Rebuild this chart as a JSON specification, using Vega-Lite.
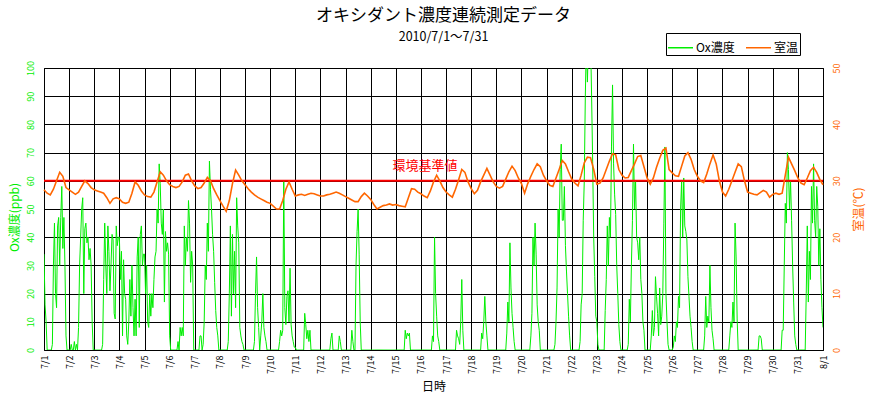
{
"$schema":"https://vega.github.io/schema/vega-lite/v6.json",
"width":779,"height":282,
"autosize":{"type":"none"},
"padding":{"left":44,"top":68,"right":49,"bottom":48},
"background":"white",
"config":{"font":"Noto Sans CJK JP","view":{"stroke":"black","strokeWidth":1},
"axis":{"gridColor":"black","gridOpacity":1,"gridWidth":1,"domain":false,"ticks":false,"tickSize":0,"labelOverlap":false,"labelFlush":false}},
"title":{"text":"オキシダント濃度連続測定データ","subtitle":"2010/7/1～7/31","fontSize":17,"fontWeight":"normal","subtitleFontSize":12.5,"color":"black","subtitleColor":"black","anchor":"middle","dx":10,"offset":-12,"subtitlePadding":6,"font":"Noto Sans CJK JP","subtitleFont":"Noto Sans CJK JP"},
"datasets":{
"ox":[
{"h":0,"v":34},{"h":1,"v":16},{"h":2,"v":10},{"h":3,"v":0},{"h":4,"v":0},{"h":5,"v":0},{"h":6,"v":0},{"h":7,"v":0},{"h":8,"v":2},{"h":9,"v":30},{"h":10,"v":45},{"h":11,"v":20},{"h":12,"v":15},{"h":13,"v":44},{"h":14,"v":47},{"h":15,"v":30},{"h":16,"v":47},{"h":17,"v":58},{"h":18,"v":36},{"h":19,"v":47},{"h":20,"v":30},{"h":21,"v":5},{"h":22,"v":0},{"h":23,"v":0},
{"h":24,"v":0},{"h":25,"v":0},{"h":26,"v":2},{"h":27,"v":0},{"h":28,"v":0},{"h":29,"v":3},{"h":30,"v":0},{"h":31,"v":2},{"h":32,"v":0},{"h":33,"v":8},{"h":34,"v":30},{"h":35,"v":40},{"h":36,"v":50},{"h":37,"v":54},{"h":38,"v":20},{"h":39,"v":43},{"h":40,"v":45},{"h":41,"v":38},{"h":42,"v":40},{"h":43,"v":32},{"h":44,"v":36},{"h":45,"v":30},{"h":46,"v":10},{"h":47,"v":0},
{"h":48,"v":0},{"h":49,"v":0},{"h":50,"v":0},{"h":51,"v":0},{"h":52,"v":0},{"h":53,"v":0},{"h":54,"v":0},{"h":55,"v":0},{"h":56,"v":2},{"h":57,"v":25},{"h":58,"v":45},{"h":59,"v":30},{"h":60,"v":20},{"h":61,"v":44},{"h":62,"v":35},{"h":63,"v":21},{"h":64,"v":30},{"h":65,"v":41},{"h":66,"v":39},{"h":67,"v":13},{"h":68,"v":11},{"h":69,"v":44},{"h":70,"v":37},{"h":71,"v":40},
{"h":72,"v":40},{"h":73,"v":25},{"h":74,"v":35},{"h":75,"v":5},{"h":76,"v":32},{"h":77,"v":20},{"h":78,"v":18},{"h":79,"v":5},{"h":80,"v":2},{"h":81,"v":10},{"h":82,"v":25},{"h":83,"v":12},{"h":84,"v":30},{"h":85,"v":15},{"h":86,"v":5},{"h":87,"v":18},{"h":88,"v":5},{"h":89,"v":33},{"h":90,"v":40},{"h":91,"v":8},{"h":92,"v":41},{"h":93,"v":44},{"h":94,"v":30},{"h":95,"v":34},
{"h":96,"v":34},{"h":97,"v":20},{"h":98,"v":30},{"h":99,"v":10},{"h":100,"v":8},{"h":101,"v":20},{"h":102,"v":12},{"h":103,"v":20},{"h":104,"v":15},{"h":105,"v":25},{"h":106,"v":33},{"h":107,"v":35},{"h":108,"v":50},{"h":109,"v":45},{"h":110,"v":66},{"h":111,"v":59},{"h":112,"v":45},{"h":113,"v":41},{"h":114,"v":50},{"h":115,"v":17},{"h":116,"v":42},{"h":117,"v":35},{"h":118,"v":38},{"h":119,"v":34},
{"h":120,"v":5},{"h":121,"v":0},{"h":122,"v":0},{"h":123,"v":0},{"h":124,"v":0},{"h":125,"v":0},{"h":126,"v":0},{"h":127,"v":0},{"h":128,"v":3},{"h":129,"v":0},{"h":130,"v":8},{"h":131,"v":5},{"h":132,"v":8},{"h":133,"v":5},{"h":134,"v":44},{"h":135,"v":30},{"h":136,"v":40},{"h":137,"v":35},{"h":138,"v":53},{"h":139,"v":45},{"h":140,"v":24},{"h":141,"v":35},{"h":142,"v":30},{"h":143,"v":0},
{"h":144,"v":0},{"h":145,"v":0},{"h":146,"v":0},{"h":147,"v":0},{"h":148,"v":0},{"h":149,"v":5},{"h":150,"v":5},{"h":151,"v":0},{"h":152,"v":2},{"h":153,"v":10},{"h":154,"v":30},{"h":155,"v":25},{"h":156,"v":45},{"h":157,"v":35},{"h":158,"v":67},{"h":159,"v":57},{"h":160,"v":50},{"h":161,"v":41},{"h":162,"v":35},{"h":163,"v":24},{"h":164,"v":14},{"h":165,"v":8},{"h":166,"v":5},{"h":167,"v":0},
{"h":168,"v":0},{"h":169,"v":0},{"h":170,"v":0},{"h":171,"v":0},{"h":172,"v":0},{"h":173,"v":0},{"h":174,"v":0},{"h":175,"v":0},{"h":176,"v":3},{"h":177,"v":20},{"h":178,"v":44},{"h":179,"v":12},{"h":180,"v":41},{"h":181,"v":20},{"h":182,"v":35},{"h":183,"v":15},{"h":184,"v":54},{"h":185,"v":44},{"h":186,"v":38},{"h":187,"v":8},{"h":188,"v":5},{"h":189,"v":3},{"h":190,"v":2},{"h":191,"v":0},
{"h":192,"v":0},{"h":193,"v":0},{"h":194,"v":0},{"h":195,"v":0},{"h":196,"v":0},{"h":197,"v":0},{"h":198,"v":0},{"h":199,"v":0},{"h":200,"v":0},{"h":201,"v":3},{"h":202,"v":20},{"h":203,"v":33},{"h":204,"v":15},{"h":205,"v":8},{"h":206,"v":0},{"h":207,"v":5},{"h":208,"v":10},{"h":209,"v":20},{"h":210,"v":8},{"h":211,"v":5},{"h":212,"v":3},{"h":213,"v":0},{"h":214,"v":0},{"h":215,"v":0},
{"h":216,"v":0},{"h":217,"v":0},{"h":218,"v":0},{"h":219,"v":0},{"h":220,"v":0},{"h":221,"v":0},{"h":222,"v":0},{"h":223,"v":0},{"h":224,"v":0},{"h":225,"v":3},{"h":226,"v":7},{"h":227,"v":5},{"h":228,"v":7},{"h":229,"v":60},{"h":230,"v":15},{"h":231,"v":9},{"h":232,"v":19},{"h":233,"v":21},{"h":234,"v":10},{"h":235,"v":29},{"h":236,"v":9},{"h":237,"v":5},{"h":238,"v":3},{"h":239,"v":1},
{"h":240,"v":1},{"h":241,"v":0},{"h":242,"v":0},{"h":243,"v":0},{"h":244,"v":0},{"h":245,"v":0},{"h":246,"v":0},{"h":247,"v":0},{"h":248,"v":0},{"h":249,"v":13},{"h":250,"v":9},{"h":251,"v":4},{"h":252,"v":7},{"h":253,"v":3},{"h":254,"v":7},{"h":255,"v":0},{"h":256,"v":0},{"h":257,"v":0},{"h":258,"v":0},{"h":259,"v":0},{"h":260,"v":0},{"h":261,"v":0},{"h":262,"v":0},{"h":263,"v":0},
{"h":264,"v":0},{"h":265,"v":0},{"h":266,"v":0},{"h":267,"v":0},{"h":268,"v":0},{"h":269,"v":0},{"h":270,"v":0},{"h":271,"v":0},{"h":272,"v":0},{"h":273,"v":0},{"h":274,"v":4},{"h":275,"v":6},{"h":276,"v":0},{"h":277,"v":0},{"h":278,"v":0},{"h":279,"v":0},{"h":280,"v":0},{"h":281,"v":0},{"h":282,"v":5},{"h":283,"v":3},{"h":284,"v":0},{"h":285,"v":0},{"h":286,"v":0},{"h":287,"v":0},
{"h":288,"v":0},{"h":289,"v":0},{"h":290,"v":0},{"h":291,"v":0},{"h":292,"v":0},{"h":293,"v":0},{"h":294,"v":7},{"h":295,"v":3},{"h":296,"v":0},{"h":297,"v":0},{"h":298,"v":30},{"h":299,"v":42},{"h":300,"v":50},{"h":301,"v":34},{"h":302,"v":10},{"h":303,"v":0},{"h":304,"v":0},{"h":305,"v":0},{"h":306,"v":0},{"h":307,"v":0},{"h":308,"v":0},{"h":309,"v":0},{"h":310,"v":0},{"h":311,"v":0},
{"h":312,"v":0},{"h":313,"v":0},{"h":314,"v":0},{"h":315,"v":0},{"h":316,"v":0},{"h":317,"v":0},{"h":318,"v":0},{"h":319,"v":0},{"h":320,"v":0},{"h":321,"v":0},{"h":322,"v":0},{"h":323,"v":0},{"h":324,"v":0},{"h":325,"v":0},{"h":326,"v":0},{"h":327,"v":0},{"h":328,"v":0},{"h":329,"v":0},{"h":330,"v":0},{"h":331,"v":0},{"h":332,"v":0},{"h":333,"v":0},{"h":334,"v":0},{"h":335,"v":0},
{"h":336,"v":0},{"h":337,"v":0},{"h":338,"v":0},{"h":339,"v":0},{"h":340,"v":0},{"h":341,"v":0},{"h":342,"v":0},{"h":343,"v":0},{"h":344,"v":0},{"h":345,"v":7},{"h":346,"v":4},{"h":347,"v":6},{"h":348,"v":5},{"h":349,"v":6},{"h":350,"v":0},{"h":351,"v":0},{"h":352,"v":0},{"h":353,"v":0},{"h":354,"v":0},{"h":355,"v":0},{"h":356,"v":0},{"h":357,"v":0},{"h":358,"v":0},{"h":359,"v":0},
{"h":360,"v":0},{"h":361,"v":0},{"h":362,"v":0},{"h":363,"v":0},{"h":364,"v":0},{"h":365,"v":0},{"h":366,"v":0},{"h":367,"v":0},{"h":368,"v":0},{"h":369,"v":0},{"h":370,"v":0},{"h":371,"v":5},{"h":372,"v":3},{"h":373,"v":40},{"h":374,"v":20},{"h":375,"v":12},{"h":376,"v":5},{"h":377,"v":3},{"h":378,"v":0},{"h":379,"v":0},{"h":380,"v":0},{"h":381,"v":0},{"h":382,"v":0},{"h":383,"v":0},
{"h":384,"v":0},{"h":385,"v":0},{"h":386,"v":0},{"h":387,"v":0},{"h":388,"v":0},{"h":389,"v":0},{"h":390,"v":0},{"h":391,"v":0},{"h":392,"v":0},{"h":393,"v":0},{"h":394,"v":7},{"h":395,"v":5},{"h":396,"v":4},{"h":397,"v":2},{"h":398,"v":10},{"h":399,"v":25},{"h":400,"v":7},{"h":401,"v":0},{"h":402,"v":0},{"h":403,"v":0},{"h":404,"v":0},{"h":405,"v":0},{"h":406,"v":0},{"h":407,"v":0},
{"h":408,"v":0},{"h":409,"v":0},{"h":410,"v":0},{"h":411,"v":0},{"h":412,"v":0},{"h":413,"v":0},{"h":414,"v":0},{"h":415,"v":0},{"h":416,"v":0},{"h":417,"v":0},{"h":418,"v":6},{"h":419,"v":4},{"h":420,"v":10},{"h":421,"v":19},{"h":422,"v":10},{"h":423,"v":5},{"h":424,"v":0},{"h":425,"v":0},{"h":426,"v":0},{"h":427,"v":0},{"h":428,"v":0},{"h":429,"v":0},{"h":430,"v":0},{"h":431,"v":0},
{"h":432,"v":0},{"h":433,"v":0},{"h":434,"v":0},{"h":435,"v":0},{"h":436,"v":0},{"h":437,"v":0},{"h":438,"v":0},{"h":439,"v":0},{"h":440,"v":0},{"h":441,"v":0},{"h":442,"v":6},{"h":443,"v":17},{"h":444,"v":10},{"h":445,"v":38},{"h":446,"v":22},{"h":447,"v":13},{"h":448,"v":8},{"h":449,"v":3},{"h":450,"v":0},{"h":451,"v":0},{"h":452,"v":0},{"h":453,"v":0},{"h":454,"v":0},{"h":455,"v":0},
{"h":456,"v":0},{"h":457,"v":0},{"h":458,"v":0},{"h":459,"v":0},{"h":460,"v":0},{"h":461,"v":0},{"h":462,"v":0},{"h":463,"v":0},{"h":464,"v":0},{"h":465,"v":5},{"h":466,"v":13},{"h":467,"v":40},{"h":468,"v":30},{"h":469,"v":45},{"h":470,"v":34},{"h":471,"v":16},{"h":472,"v":10},{"h":473,"v":7},{"h":474,"v":0},{"h":475,"v":0},{"h":476,"v":0},{"h":477,"v":0},{"h":478,"v":0},{"h":479,"v":0},
{"h":480,"v":0},{"h":481,"v":0},{"h":482,"v":0},{"h":483,"v":0},{"h":484,"v":0},{"h":485,"v":0},{"h":486,"v":0},{"h":487,"v":0},{"h":488,"v":2},{"h":489,"v":10},{"h":490,"v":22},{"h":491,"v":50},{"h":492,"v":40},{"h":493,"v":64},{"h":494,"v":73},{"h":495,"v":46},{"h":496,"v":46},{"h":497,"v":58},{"h":498,"v":37},{"h":499,"v":28},{"h":500,"v":20},{"h":501,"v":12},{"h":502,"v":5},{"h":503,"v":0},
{"h":504,"v":0},{"h":505,"v":0},{"h":506,"v":0},{"h":507,"v":0},{"h":508,"v":0},{"h":509,"v":0},{"h":510,"v":0},{"h":511,"v":0},{"h":512,"v":3},{"h":513,"v":16},{"h":514,"v":20},{"h":515,"v":46},{"h":516,"v":60},{"h":517,"v":90},{"h":518,"v":110},{"h":519,"v":95},{"h":520,"v":110},{"h":521,"v":100},{"h":522,"v":110},{"h":523,"v":90},{"h":524,"v":67},{"h":525,"v":40},{"h":526,"v":26},{"h":527,"v":12},
{"h":528,"v":10},{"h":529,"v":2},{"h":530,"v":0},{"h":531,"v":0},{"h":532,"v":0},{"h":533,"v":0},{"h":534,"v":0},{"h":535,"v":0},{"h":536,"v":14},{"h":537,"v":25},{"h":538,"v":44},{"h":539,"v":30},{"h":540,"v":47},{"h":541,"v":40},{"h":542,"v":72},{"h":543,"v":94},{"h":544,"v":66},{"h":545,"v":55},{"h":546,"v":48},{"h":547,"v":30},{"h":548,"v":20},{"h":549,"v":9},{"h":550,"v":3},{"h":551,"v":0},
{"h":552,"v":0},{"h":553,"v":0},{"h":554,"v":0},{"h":555,"v":0},{"h":556,"v":0},{"h":557,"v":0},{"h":558,"v":2},{"h":559,"v":18},{"h":560,"v":10},{"h":561,"v":30},{"h":562,"v":46},{"h":563,"v":73},{"h":564,"v":50},{"h":565,"v":60},{"h":566,"v":40},{"h":567,"v":38},{"h":568,"v":32},{"h":569,"v":40},{"h":570,"v":25},{"h":571,"v":20},{"h":572,"v":10},{"h":573,"v":7},{"h":574,"v":0},{"h":575,"v":0},
{"h":576,"v":0},{"h":577,"v":0},{"h":578,"v":0},{"h":579,"v":0},{"h":580,"v":5},{"h":581,"v":14},{"h":582,"v":5},{"h":583,"v":8},{"h":584,"v":26},{"h":585,"v":19},{"h":586,"v":13},{"h":587,"v":5},{"h":588,"v":22},{"h":589,"v":9},{"h":590,"v":12},{"h":591,"v":20},{"h":592,"v":45},{"h":593,"v":72},{"h":594,"v":20},{"h":595,"v":10},{"h":596,"v":2},{"h":597,"v":0},{"h":598,"v":0},{"h":599,"v":0},
{"h":600,"v":0},{"h":601,"v":1},{"h":602,"v":5},{"h":603,"v":3},{"h":604,"v":10},{"h":605,"v":8},{"h":606,"v":19},{"h":607,"v":15},{"h":608,"v":50},{"h":609,"v":60},{"h":610,"v":40},{"h":611,"v":61},{"h":612,"v":44},{"h":613,"v":42},{"h":614,"v":39},{"h":615,"v":26},{"h":616,"v":19},{"h":617,"v":12},{"h":618,"v":8},{"h":619,"v":3},{"h":620,"v":0},{"h":621,"v":0},{"h":622,"v":0},{"h":623,"v":0},
{"h":624,"v":0},{"h":625,"v":0},{"h":626,"v":0},{"h":627,"v":0},{"h":628,"v":0},{"h":629,"v":0},{"h":630,"v":0},{"h":631,"v":5},{"h":632,"v":19},{"h":633,"v":8},{"h":634,"v":12},{"h":635,"v":10},{"h":636,"v":30},{"h":637,"v":15},{"h":638,"v":7},{"h":639,"v":4},{"h":640,"v":0},{"h":641,"v":0},{"h":642,"v":0},{"h":643,"v":0},{"h":644,"v":0},{"h":645,"v":0},{"h":646,"v":0},{"h":647,"v":0},
{"h":648,"v":0},{"h":649,"v":0},{"h":650,"v":0},{"h":651,"v":0},{"h":652,"v":0},{"h":653,"v":0},{"h":654,"v":0},{"h":655,"v":5},{"h":656,"v":10},{"h":657,"v":8},{"h":658,"v":17},{"h":659,"v":10},{"h":660,"v":45},{"h":661,"v":33},{"h":662,"v":11},{"h":663,"v":0},{"h":664,"v":0},{"h":665,"v":0},{"h":666,"v":0},{"h":667,"v":0},{"h":668,"v":0},{"h":669,"v":0},{"h":670,"v":0},{"h":671,"v":0},
{"h":672,"v":0},{"h":673,"v":0},{"h":674,"v":0},{"h":675,"v":0},{"h":676,"v":0},{"h":677,"v":0},{"h":678,"v":0},{"h":679,"v":0},{"h":680,"v":0},{"h":681,"v":0},{"h":682,"v":0},{"h":683,"v":5},{"h":684,"v":5},{"h":685,"v":4},{"h":686,"v":0},{"h":687,"v":0},{"h":688,"v":0},{"h":689,"v":0},{"h":690,"v":0},{"h":691,"v":0},{"h":692,"v":0},{"h":693,"v":0},{"h":694,"v":0},{"h":695,"v":0},
{"h":696,"v":0},{"h":697,"v":0},{"h":698,"v":0},{"h":699,"v":0},{"h":700,"v":0},{"h":701,"v":0},{"h":702,"v":0},{"h":703,"v":0},{"h":704,"v":0},{"h":705,"v":7},{"h":706,"v":7},{"h":707,"v":30},{"h":708,"v":52},{"h":709,"v":45},{"h":710,"v":70},{"h":711,"v":64},{"h":712,"v":50},{"h":713,"v":60},{"h":714,"v":46},{"h":715,"v":30},{"h":716,"v":17},{"h":717,"v":5},{"h":718,"v":2},{"h":719,"v":0},
{"h":720,"v":0},{"h":721,"v":0},{"h":722,"v":0},{"h":723,"v":0},{"h":724,"v":0},{"h":725,"v":0},{"h":726,"v":0},{"h":727,"v":0},{"h":728,"v":20},{"h":729,"v":44},{"h":730,"v":17},{"h":731,"v":35},{"h":732,"v":25},{"h":733,"v":58},{"h":734,"v":45},{"h":735,"v":66},{"h":736,"v":46},{"h":737,"v":40},{"h":738,"v":58},{"h":739,"v":51},{"h":740,"v":30},{"h":741,"v":43},{"h":742,"v":25},{"h":743,"v":15},
{"h":744,"v":8}
],
"temp":[
{"h":0,"t":28.4},{"h":3,"t":27.8},{"h":6,"t":27.5},{"h":9,"t":28.5},{"h":12,"t":30.0},{"h":15,"t":31.5},{"h":18,"t":30.8},{"h":21,"t":28.8},
{"h":24,"t":28.4},{"h":27,"t":28.0},{"h":30,"t":27.6},{"h":33,"t":28.0},{"h":36,"t":29.0},{"h":39,"t":30.0},{"h":42,"t":29.5},{"h":45,"t":28.8},
{"h":48,"t":28.4},{"h":51,"t":28.2},{"h":54,"t":28.0},{"h":57,"t":27.8},{"h":60,"t":27.0},{"h":63,"t":26.0},{"h":66,"t":26.8},{"h":69,"t":27.0},
{"h":72,"t":26.8},{"h":75,"t":26.2},{"h":78,"t":26.0},{"h":81,"t":26.2},{"h":84,"t":27.8},{"h":87,"t":29.8},{"h":90,"t":29.2},{"h":93,"t":28.2},
{"h":96,"t":27.5},{"h":99,"t":27.2},{"h":102,"t":27.1},{"h":105,"t":28.0},{"h":108,"t":29.8},{"h":111,"t":31.6},{"h":114,"t":31.0},{"h":117,"t":30.0},
{"h":120,"t":29.3},{"h":123,"t":29.0},{"h":126,"t":28.8},{"h":129,"t":29.0},{"h":132,"t":29.8},{"h":135,"t":31.0},{"h":138,"t":31.2},{"h":141,"t":30.0},
{"h":144,"t":29.1},{"h":147,"t":28.6},{"h":150,"t":28.8},{"h":153,"t":29.6},{"h":156,"t":30.6},{"h":159,"t":30.0},{"h":162,"t":28.6},{"h":165,"t":27.5},
{"h":168,"t":26.5},{"h":171,"t":25.5},{"h":174,"t":24.6},{"h":177,"t":26.5},{"h":180,"t":29.5},{"h":183,"t":31.9},{"h":186,"t":31.0},{"h":189,"t":30.0},
{"h":192,"t":29.3},{"h":195,"t":28.6},{"h":198,"t":28.0},{"h":201,"t":27.5},{"h":204,"t":27.1},{"h":207,"t":26.8},{"h":210,"t":26.5},{"h":213,"t":26.2},
{"h":216,"t":26.0},{"h":219,"t":25.5},{"h":222,"t":25.0},{"h":225,"t":25.0},{"h":228,"t":26.5},{"h":231,"t":28.5},{"h":234,"t":29.8},{"h":237,"t":28.5},
{"h":240,"t":27.3},{"h":243,"t":27.5},{"h":246,"t":27.6},{"h":249,"t":27.4},{"h":252,"t":27.6},{"h":255,"t":27.8},{"h":258,"t":27.7},{"h":261,"t":27.5},
{"h":264,"t":27.3},{"h":267,"t":27.3},{"h":270,"t":27.5},{"h":273,"t":27.6},{"h":276,"t":27.8},{"h":279,"t":28.0},{"h":282,"t":27.8},{"h":285,"t":27.5},
{"h":288,"t":27.2},{"h":291,"t":26.9},{"h":294,"t":26.6},{"h":297,"t":26.3},{"h":300,"t":26.3},{"h":303,"t":27.2},{"h":306,"t":27.8},{"h":309,"t":27.3},
{"h":312,"t":26.7},{"h":315,"t":25.8},{"h":318,"t":25.0},{"h":321,"t":25.3},{"h":324,"t":25.6},{"h":327,"t":25.7},{"h":330,"t":25.9},{"h":333,"t":25.7},
{"h":336,"t":25.8},{"h":339,"t":25.6},{"h":342,"t":25.5},{"h":345,"t":25.4},{"h":348,"t":27.0},{"h":351,"t":28.6},{"h":354,"t":28.5},{"h":357,"t":28.0},
{"h":360,"t":27.7},{"h":363,"t":27.3},{"h":366,"t":27.0},{"h":369,"t":28.2},{"h":372,"t":29.8},{"h":375,"t":31.0},{"h":378,"t":30.0},{"h":381,"t":28.8},
{"h":384,"t":28.0},{"h":387,"t":27.5},{"h":390,"t":27.1},{"h":393,"t":28.5},{"h":396,"t":30.2},{"h":399,"t":32.0},{"h":402,"t":31.5},{"h":405,"t":29.8},
{"h":408,"t":28.6},{"h":411,"t":27.7},{"h":414,"t":28.3},{"h":417,"t":29.8},{"h":420,"t":31.0},{"h":423,"t":32.2},{"h":426,"t":31.0},{"h":429,"t":29.8},
{"h":432,"t":29.0},{"h":435,"t":28.7},{"h":438,"t":29.0},{"h":441,"t":30.3},{"h":444,"t":31.6},{"h":447,"t":32.6},{"h":450,"t":31.8},{"h":453,"t":30.5},
{"h":456,"t":29.5},{"h":459,"t":27.8},{"h":462,"t":29.5},{"h":465,"t":30.8},{"h":468,"t":32.0},{"h":471,"t":33.0},{"h":474,"t":32.5},{"h":477,"t":31.0},
{"h":480,"t":30.0},{"h":483,"t":29.2},{"h":486,"t":29.0},{"h":489,"t":30.5},{"h":492,"t":32.0},{"h":495,"t":33.6},{"h":498,"t":33.0},{"h":501,"t":31.6},
{"h":504,"t":30.3},{"h":507,"t":29.6},{"h":510,"t":29.1},{"h":513,"t":31.0},{"h":516,"t":33.2},{"h":519,"t":34.2},{"h":522,"t":34.1},{"h":525,"t":32.0},
{"h":528,"t":29.4},{"h":531,"t":29.6},{"h":534,"t":30.5},{"h":537,"t":32.0},{"h":540,"t":33.5},{"h":543,"t":34.8},{"h":546,"t":34.6},{"h":549,"t":32.0},
{"h":552,"t":31.0},{"h":555,"t":30.5},{"h":558,"t":30.6},{"h":561,"t":31.8},{"h":564,"t":33.0},{"h":567,"t":34.3},{"h":570,"t":34.5},{"h":573,"t":32.5},
{"h":576,"t":30.5},{"h":579,"t":29.4},{"h":582,"t":30.5},{"h":585,"t":32.4},{"h":588,"t":34.0},{"h":591,"t":35.4},{"h":594,"t":35.8},{"h":597,"t":32.0},
{"h":600,"t":31.4},{"h":603,"t":30.9},{"h":606,"t":30.8},{"h":609,"t":32.6},{"h":612,"t":34.4},{"h":615,"t":35.0},{"h":618,"t":33.8},{"h":621,"t":32.0},
{"h":624,"t":30.8},{"h":627,"t":30.0},{"h":630,"t":29.7},{"h":633,"t":31.2},{"h":636,"t":33.0},{"h":639,"t":34.6},{"h":642,"t":33.0},{"h":645,"t":30.0},
{"h":648,"t":28.0},{"h":651,"t":27.3},{"h":654,"t":28.5},{"h":657,"t":30.0},{"h":660,"t":31.5},{"h":663,"t":33.0},{"h":666,"t":32.5},{"h":669,"t":30.0},
{"h":672,"t":28.0},{"h":675,"t":27.8},{"h":678,"t":27.6},{"h":681,"t":27.5},{"h":684,"t":27.9},{"h":687,"t":28.3},{"h":690,"t":28.0},{"h":693,"t":27.1},
{"h":696,"t":27.6},{"h":699,"t":27.8},{"h":702,"t":27.6},{"h":705,"t":27.8},{"h":708,"t":31.0},{"h":711,"t":34.2},{"h":714,"t":33.0},{"h":717,"t":31.8},
{"h":720,"t":30.5},{"h":723,"t":29.6},{"h":726,"t":29.3},{"h":729,"t":30.5},{"h":732,"t":31.8},{"h":735,"t":32.4},{"h":738,"t":31.5},{"h":741,"t":30.2},
{"h":744,"t":29.3}
]},
"layer":[
{"layer":[
{"data":{"name":"ox"},"mark":{"type":"line","strokeWidth":1,"clip":true},
"encoding":{
"x":{"field":"h","type":"quantitative","scale":{"domain":[0,744],"nice":false,"zero":false},
"axis":{"values":[0,24,48,72,96,120,144,168,192,216,240,264,288,312,336,360,384,408,432,456,480,504,528,552,576,600,624,648,672,696,720,744],"tickCount":40,
"labelExpr":"datum.value == 744 ? '8/1' : '7/' + (datum.value / 24 + 1)","grid":true,"labelAngle":270,"labelAlign":"right","labelBaseline":"middle","labelFontSize":9,"labelPadding":5,"labelColor":"black","labelOverlap":false,"labelFlush":false,"labelBound":false,
"title":"日時","titleFontSize":12,"titleFontWeight":"normal","titleColor":"black","titlePadding":8}},
"y":{"field":"v","type":"quantitative","scale":{"domain":[0,100],"nice":false},
"axis":{"orient":"left","values":[0,10,20,30,40,50,60,70,80,90,100],"tickCount":12,"grid":true,"labelColor":"#00ee00","labelFontSize":9,"labelAngle":270,"labelAlign":"center","labelBaseline":"middle","labelPadding":14,"labelOverlap":false,"labelFlush":false,
"title":"Ox濃度(ppb)","titleColor":"#00ee00","titleFontSize":12,"titleFontWeight":"normal","titleAngle":270,"titleX":-30,"titleY":149,"titleAlign":"center","titleBaseline":"middle"}},
"color":{"datum":"Ox濃度","type":"nominal","scale":{"domain":["Ox濃度","室温"],"range":["#00ee00","#ff6600"]},
"legend":{"orient":"none","legendX":622,"legendY":-35,"direction":"horizontal","title":null,"symbolType":"stroke","symbolSize":625,"symbolStrokeWidth":1.5,"labelFontSize":12,"labelColor":"black","strokeColor":"black","fillColor":"white","padding":1,"columnPadding":8,"labelOffset":2}}
}},
{"data":{"values":[{}]},"mark":{"type":"rule","color":"#ff0000","strokeWidth":2},"encoding":{"y":{"datum":60,"type":"quantitative","scale":{"domain":[0,100],"nice":false}}}},
{"data":{"values":[{}]},"mark":{"type":"text","text":"環境基準値","color":"#ff0000","fontSize":13,"align":"center","baseline":"middle","dy":-15},
"encoding":{"x":{"datum":364,"type":"quantitative"},"y":{"datum":60,"type":"quantitative","scale":{"domain":[0,100],"nice":false}}}}
]},
{"data":{"name":"temp"},"mark":{"type":"line","strokeWidth":1.6},
"encoding":{
"x":{"field":"h","type":"quantitative","axis":{"values":[0,24,48,72,96,120,144,168,192,216,240,264,288,312,336,360,384,408,432,456,480,504,528,552,576,600,624,648,672,696,720,744],"tickCount":40,"labelExpr":"datum.value == 744 ? '8/1' : '7/' + (datum.value / 24 + 1)","grid":true,"labelAngle":270,"labelAlign":"right","labelBaseline":"middle","labelFontSize":9,"labelPadding":5,"labelColor":"black","labelOverlap":false,"labelFlush":false,"labelBound":false,"title":"日時","titleFontSize":12,"titleFontWeight":"normal","titleColor":"black","titlePadding":8}},
"y":{"field":"t","type":"quantitative","scale":{"domain":[0,50],"nice":false},
"axis":{"orient":"right","values":[0,10,20,30,40,50],"tickCount":8,"grid":false,"labelColor":"#ff6600","labelFontSize":9,"labelAngle":270,"labelAlign":"center","labelBaseline":"middle","labelPadding":13,"labelOverlap":false,"labelFlush":false,
"title":"室温(℃)","titleColor":"#ff6600","titleFontSize":12,"titleFontWeight":"normal","titleAngle":270,"titleX":35,"titleY":141,"titleAlign":"center","titleBaseline":"middle"}},
"color":{"datum":"室温","type":"nominal"}
}}
],
"resolve":{"scale":{"y":"independent"}}
}
